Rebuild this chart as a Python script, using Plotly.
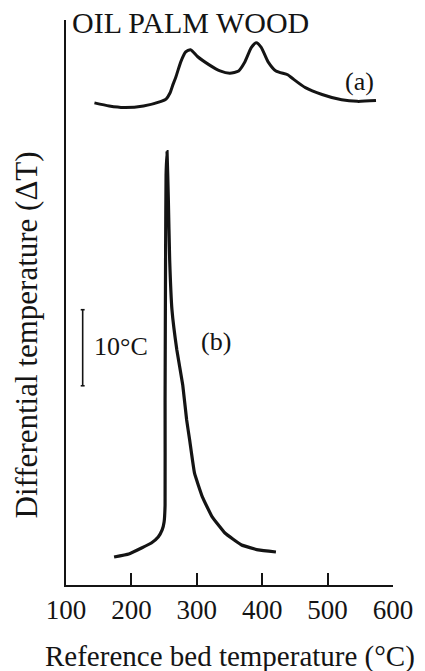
import plotly.graph_objects as go

# Curve (a): temperature (°C) vs differential temperature (arbitrary offset, °C units)
a_temp = [143.5, 166, 188.5, 218.5, 245.5, 253, 259, 263.5, 268, 275.5, 283, 290.5, 301, 319,
          335.5, 350.5, 364, 373, 383.5, 391, 398.5, 409, 421, 439, 446.5, 466, 491.5, 521.5, 545.5, 574]
a_dT = [63.4, 63.0, 62.8, 63.0, 63.6, 63.9, 64.7, 65.8, 66.8, 68.8, 70.1, 70.4, 69.5, 68.4,
        67.6, 67.3, 67.6, 68.7, 70.7, 71.3, 70.7, 68.8, 67.6, 67.1, 66.6, 65.4, 64.5, 63.8, 63.6, 63.7]

# Curve (b)
b_temp = [173.5, 196, 215.5, 230.5, 241, 247, 250, 251.5, 251.5, 252.3, 253, 254.5, 256.5, 258.5,
          262, 269.5, 278.5, 284.5, 289, 296.5, 308.5, 323.5, 343, 368.5, 394, 421]
b_dT = [3.68, 4.08, 4.87, 5.53, 6.32, 7.24, 8.29, 10.5, 24.3, 44.1, 53.9, 57.0, 50.7, 42.8,
        36.2, 30.9, 26.3, 21.7, 19.1, 14.7, 11.6, 8.95, 6.84, 5.26, 4.61, 4.34]

x_ticks = [100, 200, 300, 400, 500, 600]
x_tick_labels = ["100", "200", "300", "400", "500", "600"]

# Scale bar: 10 °C
bar_x = 125.5
bar_bottom = 26.2
bar_len = 10
bar_cap = 3

FONT = "Liberation Serif, Times New Roman, serif"
INK = "#141414"

fig = go.Figure()
fig.add_trace(go.Scatter(x=a_temp, y=a_dT, mode="lines",
                         line=dict(color=INK, width=3, shape="spline", smoothing=0.6),
                         hoverinfo="skip", showlegend=False))
fig.add_trace(go.Scatter(x=b_temp, y=b_dT, mode="lines",
                         line=dict(color=INK, width=3.2, shape="spline", smoothing=0.3),
                         hoverinfo="skip", showlegend=False))
fig.add_trace(go.Scatter(
    x=[bar_x - bar_cap, bar_x + bar_cap, None, bar_x, bar_x, None, bar_x - bar_cap, bar_x + bar_cap],
    y=[bar_bottom + bar_len, bar_bottom + bar_len, None, bar_bottom, bar_bottom + bar_len, None,
       bar_bottom, bar_bottom],
    mode="lines", line=dict(color=INK, width=1.6), hoverinfo="skip", showlegend=False))

fig.update_layout(
    width=425, height=671,
    margin=dict(l=66, r=26, t=20, b=86),
    paper_bgcolor="white", plot_bgcolor="white",
    font=dict(family=FONT, color=INK),
    xaxis=dict(range=[100, 600], tickvals=x_ticks, ticktext=x_tick_labels,
               showgrid=False, zeroline=False, showline=True, linecolor=INK, linewidth=2,
               ticks="inside", ticklen=12, tickwidth=2, tickcolor=INK,
               tickfont=dict(family=FONT, size=27, color=INK)),
    yaxis=dict(range=[0, 74.3], showgrid=False, zeroline=False, showline=True,
               linecolor=INK, linewidth=2, showticklabels=False, ticks=""),
    annotations=[
        dict(text="OIL PALM WOOD", xref="paper", yref="paper", x=0.381, y=0.9947,
             xanchor="center", yanchor="middle", showarrow=False,
             font=dict(family=FONT, size=30, color=INK)),
        dict(text="(a)", xref="x", yref="y", x=549, y=66.2, xanchor="center", yanchor="middle",
             showarrow=False, font=dict(family=FONT, size=26, color=INK)),
        dict(text="(b)", xref="x", yref="y", x=329, y=32.0, xanchor="center", yanchor="middle",
             showarrow=False, font=dict(family=FONT, size=26, color=INK)),
        dict(text="10°C", xref="x", yref="y", x=184.75, y=31.3, xanchor="center", yanchor="middle",
             showarrow=False, font=dict(family=FONT, size=26, color=INK)),
        dict(text="Differential temperature (ΔT)", xref="paper", yref="paper", x=-0.12, y=0.443,
             xanchor="center", yanchor="middle", textangle=-90, showarrow=False,
             font=dict(family=FONT, size=31, color=INK)),
        dict(text="Reference bed temperature (°C)", xref="paper", yref="paper", x=0.5015, y=-0.1257,
             xanchor="center", yanchor="middle", showarrow=False,
             font=dict(family=FONT, size=29, color=INK)),
    ],
)

fig.write_html("out.html")
